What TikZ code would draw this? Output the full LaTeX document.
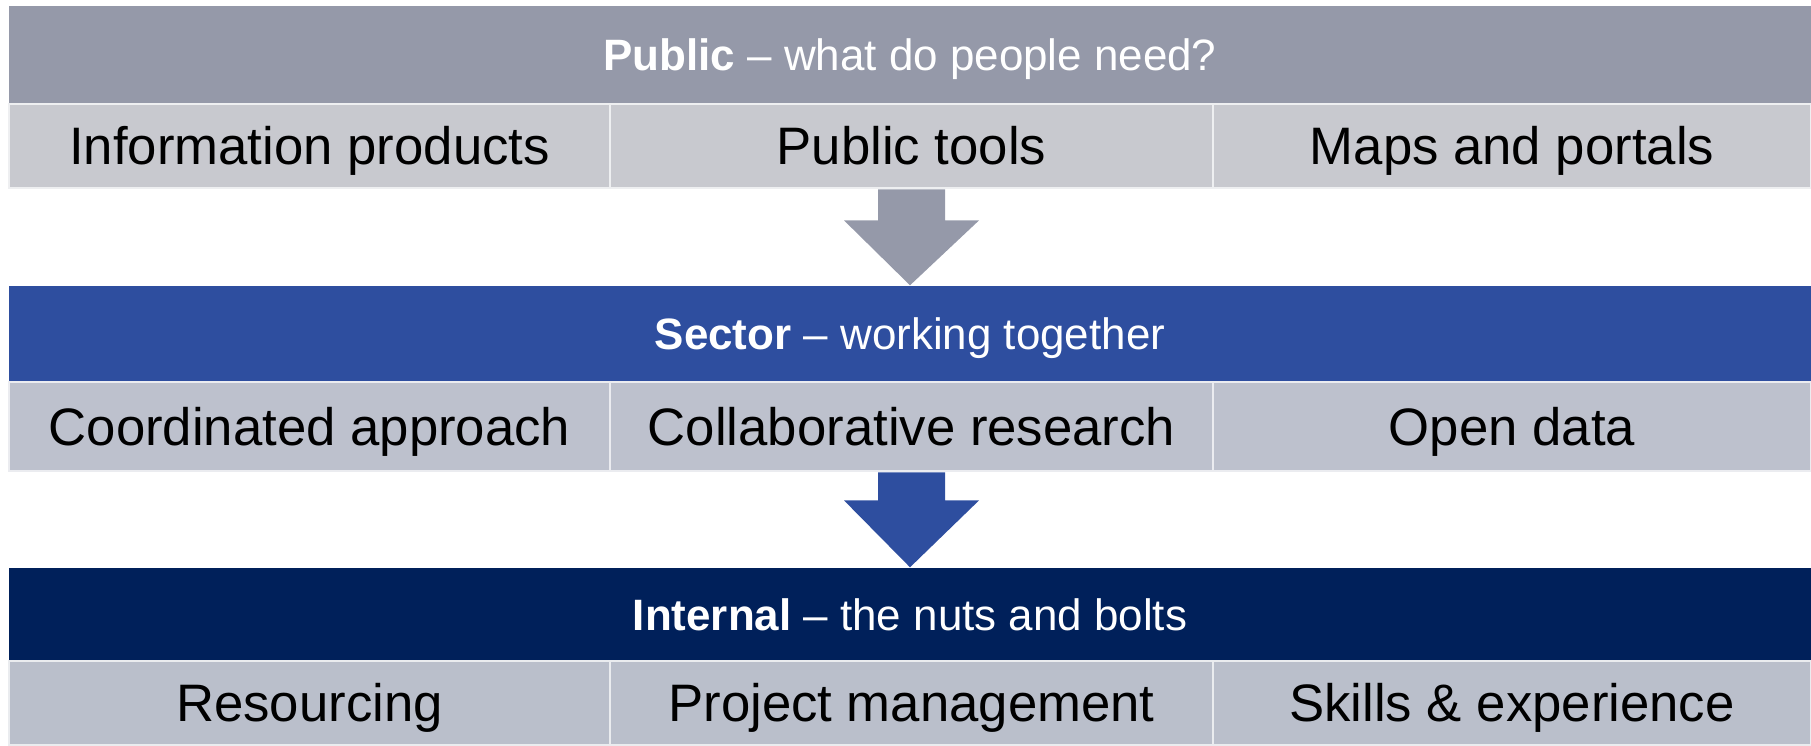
\documentclass[tikz,border=0pt]{standalone}
\usepackage{fontspec}
\setmainfont{Liberation Sans}
\usepackage{xcolor}
\usetikzlibrary{calc}

\definecolor{pubband}{HTML}{9599A9}
\definecolor{pubcell}{HTML}{C8C9CF}
\definecolor{secband}{HTML}{2E4E9F}
\definecolor{seccell}{HTML}{BDC1CD}
\definecolor{intband}{HTML}{00205A}
\definecolor{intcell}{HTML}{BABFCB}

\tikzset{
    band/.style={rectangle, inner sep=0, minimum width=18.02cm,
                 text height=9pt, text depth=0pt,
                 text=white, font=\fontsize{12.5}{15}\selectfont},
    cell/.style={rectangle, inner sep=0, draw=white!70!#1, line width=0.8pt,
                 text height=10.8pt, text depth=0pt,
                 fill=#1, font=\fontsize{15}{18}\selectfont},
}

\begin{document}
\begin{tikzpicture}
\useasboundingbox (0,0) rectangle (18.11,-7.45);

% bands
\path
    (9.1,-0.55)  node[band, fill=pubband, minimum height=0.98cm](pub)
                 {\textbf{Public} -- what do people need?}
    (9.1,-3.34)  node[band, fill=secband, minimum height=0.96cm](sec)
                 {\textbf{Sector} -- working together}
    (9.1,-6.145) node[band, fill=intband, minimum height=0.93cm](int)
                 {\textbf{Internal} -- the nuts and bolts}
    ;

% cells
\path
    (3.095,-1.46) node[cell=pubcell, minimum width=6.01cm,
                       minimum height=0.84cm](publ) {Information products}
    (9.115,-1.46) node[cell=pubcell, minimum width=6.03cm,
                       minimum height=0.84cm](pubm) {Public tools}
    (15.12,-1.46) node[cell=pubcell, minimum width=5.98cm,
                       minimum height=0.84cm](pubr) {Maps and portals}
    (3.095,-4.265) node[cell=seccell, minimum width=6.01cm,
                       minimum height=0.89cm](secl) {Coordinated approach}
    (9.115,-4.265) node[cell=seccell, minimum width=6.03cm,
                       minimum height=0.89cm](secm) {Collaborative research}
    (15.12,-4.265) node[cell=seccell, minimum width=5.98cm,
                       minimum height=0.89cm](secr) {Open data}
    (3.095,-7.03) node[cell=intcell, minimum width=6.01cm,
                       minimum height=0.84cm](intl) {Resourcing}
    (9.115,-7.03) node[cell=intcell, minimum width=6.03cm,
                       minimum height=0.84cm](intm) {Project management}
    (15.12,-7.03) node[cell=intcell, minimum width=5.98cm,
                       minimum height=0.84cm](intr) {Skills \& experience}
    ;

% block arrows
\fill[pubband]
    ($(pubm.south)+(-0.335,0)$) -- ($(pubm.south)+(0.335,0)$)
    -- ($(pubm.south)+(0.335,-0.31)$) -- ($(pubm.south)+(0.675,-0.31)$)
    -- (sec.north) -- ($(pubm.south)+(-0.675,-0.31)$)
    -- ($(pubm.south)+(-0.335,-0.31)$) -- cycle;
\fill[secband]
    ($(secm.south)+(-0.335,0)$) -- ($(secm.south)+(0.335,0)$)
    -- ($(secm.south)+(0.335,-0.28)$) -- ($(secm.south)+(0.675,-0.28)$)
    -- (int.north) -- ($(secm.south)+(-0.675,-0.28)$)
    -- ($(secm.south)+(-0.335,-0.28)$) -- cycle;

\end{tikzpicture}
\end{document}
